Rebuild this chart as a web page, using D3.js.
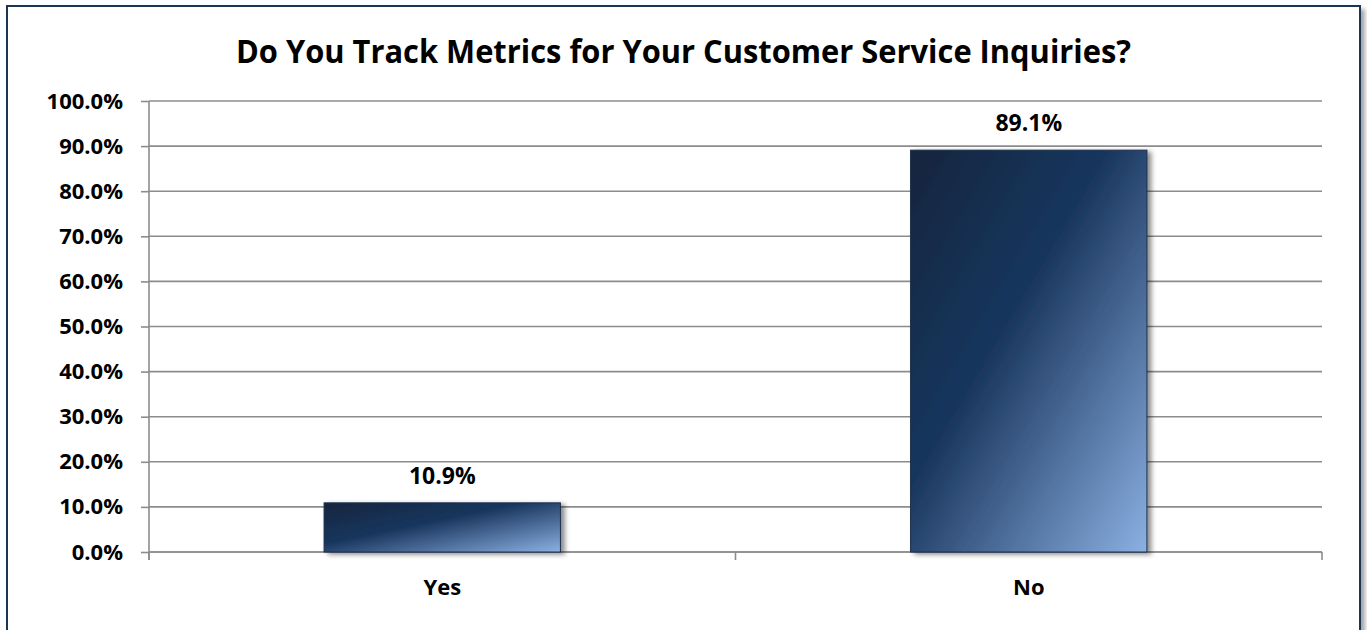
<!DOCTYPE html>
<html>
<head>
<meta charset="utf-8">
<script src="https://cdn.jsdelivr.net/npm/d3@7"></script>
<style>
  html, body { margin: 0; padding: 0; background: #fff; }
  svg { display: block; }
  text { font-family: "Open Sans", "DejaVu Sans", sans-serif; font-weight: 700; fill: #000; }
</style>
</head>
<body>
<svg id="chart" width="1367" height="630"></svg>
<script>
// Survey answers and their shares of respondents (%)
const categories = ["Yes", "No"];
const shares = [10.9, 89.1];
const yTicks = [0, 10, 20, 30, 40, 50, 60, 70, 80, 90, 100];
const chartTitle = "Do You Track Metrics for Your Customer Service Inquiries?";

const svg = d3.select("#chart");
const W = 1367, H = 630;
const plot = { left: 149, right: 1322, top: 101, bottom: 552 };
const labelSize = 22;

const defs = svg.append("defs");

// Diagonal navy-to-light-blue fill used by the bars
const grad = defs.append("linearGradient")
  .attr("id", "barFill")
  .attr("x1", 0).attr("y1", 0).attr("x2", 1).attr("y2", 1);
grad.append("stop").attr("offset", "0%").attr("stop-color", "#15253d");
grad.append("stop").attr("offset", "42%").attr("stop-color", "#19365e");
grad.append("stop").attr("offset", "100%").attr("stop-color", "#8bb0e2");

// Soft shadow to the right of each bar
const shadow = defs.append("filter").attr("id", "barShadow")
  .attr("x", "-10%").attr("y", "-10%").attr("width", "130%").attr("height", "130%");
shadow.append("feDropShadow")
  .attr("dx", 4).attr("dy", 2).attr("stdDeviation", 2.5)
  .attr("flood-color", "#000").attr("flood-opacity", 0.45);

const frameShadow = defs.append("filter").attr("id", "frameShadow")
  .attr("x", "-5%").attr("y", "-5%").attr("width", "110%").attr("height", "110%");
frameShadow.append("feDropShadow")
  .attr("dx", 4).attr("dy", 4).attr("stdDeviation", 2)
  .attr("flood-color", "#000").attr("flood-opacity", 0.35);

// Chart frame
svg.append("rect")
  .attr("x", 7).attr("y", 6).attr("width", 1353).attr("height", 640)
  .attr("fill", "#fff").attr("stroke", "#1f3452").attr("stroke-width", 2)
  .attr("filter", "url(#frameShadow)");

// Scales
const x = d3.scaleBand().domain(categories).range([plot.left, plot.right]).padding(0);
const y = d3.scaleLinear().domain([0, 100]).range([plot.bottom, plot.top]);
const barWidth = x.bandwidth() * 0.403;

// Horizontal gridlines
svg.append("g")
  .selectAll("line")
  .data(yTicks)
  .join("line")
  .attr("x1", plot.left).attr("x2", plot.right)
  .attr("y1", d => y(d)).attr("y2", d => y(d))
  .attr("stroke", "#8c8c8c").attr("stroke-width", 1.6);

// Y axis
const yAxis = d3.axisLeft(y)
  .tickValues(yTicks)
  .tickSize(8)
  .tickPadding(18)
  .tickFormat(d => d3.format(".1f")(d) + "%");
const gy = svg.append("g").attr("transform", `translate(${plot.left},0)`).call(yAxis);
gy.select(".domain").attr("stroke", "#8c8c8c").attr("stroke-width", 1.6)
  .attr("d", `M0,${plot.top}V${plot.bottom + 8}`);
gy.selectAll(".tick line").attr("stroke", "#8c8c8c").attr("stroke-width", 1.6);
gy.selectAll(".tick text")
  .attr("font-size", labelSize).attr("font-family", "\"Open Sans\", sans-serif")
  .attr("font-weight", 700).attr("fill", "#000");

// X axis with ticks between categories
const xAxis = d3.axisBottom(x).tickSize(0).tickPadding(27);
const gx = svg.append("g").attr("transform", `translate(0,${plot.bottom})`).call(xAxis);
gx.select(".domain").attr("stroke", "#8c8c8c").attr("stroke-width", 1.6)
  .attr("d", `M${plot.left},0H${plot.right}`);
gx.selectAll(".tick text")
  .attr("font-size", labelSize).attr("font-family", "\"Open Sans\", sans-serif")
  .attr("font-weight", 700).attr("fill", "#000");
const boundaries = [plot.left, plot.left + x.step(), plot.right];
gx.selectAll("line.sep")
  .data(boundaries)
  .join("line")
  .attr("class", "sep")
  .attr("x1", d => d).attr("x2", d => d)
  .attr("y1", 0).attr("y2", 8)
  .attr("stroke", "#8c8c8c").attr("stroke-width", 1.6);

// Bars
const data = categories.map((c, i) => ({ cat: c, val: shares[i] }));
svg.append("g")
  .selectAll("rect")
  .data(data)
  .join("rect")
  .attr("x", d => x(d.cat) + (x.bandwidth() - barWidth) / 2)
  .attr("y", d => y(d.val))
  .attr("width", barWidth)
  .attr("height", d => y(0) - y(d.val))
  .attr("fill", "url(#barFill)")
  .attr("stroke", "#1c2f4d").attr("stroke-width", 1)
  .attr("filter", "url(#barShadow)");

// Value labels
svg.append("g")
  .selectAll("text")
  .data(data)
  .join("text")
  .attr("x", d => x(d.cat) + x.bandwidth() / 2)
  .attr("y", d => y(d.val) - 19)
  .attr("text-anchor", "middle")
  .attr("font-size", 23)
  .text(d => d3.format(".1f")(d.val) + "%");

// Title
svg.append("text")
  .attr("x", W / 2).attr("y", 63)
  .attr("text-anchor", "middle")
  .attr("font-size", 33)
  .attr("textLength", 895)
  .attr("lengthAdjust", "spacingAndGlyphs")
  .text(chartTitle);
</script>
</body>
</html>
